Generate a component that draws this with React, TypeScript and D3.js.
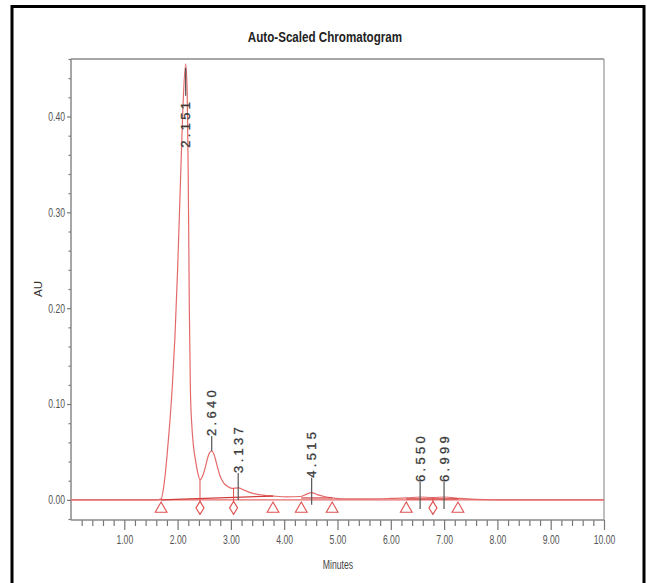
import React, { useEffect, useRef } from 'react';
import * as d3 from 'd3';

// trace (minutes / AU)
const traceTime = [0, 1.0, 1.6, 1.69, 1.75, 1.8, 1.85, 1.9, 1.95, 2.0, 2.05, 2.1, 2.151, 2.18, 2.2, 2.22, 2.24, 2.27, 2.3, 2.34, 2.38, 2.42, 2.47, 2.52, 2.57, 2.61, 2.64, 2.68, 2.73, 2.79, 2.86, 2.94, 3.02, 3.137, 3.25, 3.4, 3.6, 3.8, 4.05, 4.3, 4.42, 4.515, 4.62, 4.75, 4.9, 5.1, 5.5, 6.0, 6.3, 6.55, 6.8, 7.0, 7.3, 7.6, 8.0, 10.0];
const traceAU = [0, 0, 0, 0.001, 0.018, 0.045, 0.078, 0.118, 0.17, 0.24, 0.325, 0.41, 0.455, 0.425, 0.335, 0.2, 0.115, 0.075, 0.055, 0.04, 0.028, 0.021, 0.025, 0.034, 0.045, 0.05, 0.051, 0.048, 0.038, 0.026, 0.018, 0.014, 0.012, 0.0125, 0.01, 0.007, 0.005, 0.004, 0.0032, 0.0035, 0.006, 0.0075, 0.0055, 0.0035, 0.002, 0.001, 0.001, 0.0015, 0.002, 0.003, 0.0025, 0.003, 0.0015, 0.0005, 0, 0];

// labelled peaks
const peakRT = [2.151, 2.64, 3.137, 4.515, 6.55, 6.999];
const peakAU = [0.455, 0.051, 0.0125, 0.0075, 0.003, 0.003];
const peakLabels = ['2.151', '2.640', '3.137', '4.515', '6.550', '6.999'];

// integration marks
const triangleRT = [1.69, 3.79, 4.32, 4.9, 6.29, 7.26];
const diamondRT = [2.42, 3.05, 6.79];
const baseStartRT = [1.69, 4.32, 6.29];
const baseStartAU = [0, 0.002, 0.001];
const baseEndRT = [3.79, 4.9, 7.26];
const baseEndAU = [0.004, 0.002, 0.001];

// axes
const xMajor = [1, 2, 3, 4, 5, 6, 7, 8, 9, 10];
const yMajor = [0, 0.1, 0.2, 0.3, 0.4];

const W = 647;
const H = 583;

// squeeze a text to look like a narrow face (no Arial Narrow installed)
const squeeze = (sel: d3.Selection<any, any, any, any>, k: number) => {
  sel.each(function () {
    const el = this as SVGTextElement;
    const w = el.getComputedTextLength();
    if (w > 0) {
      el.setAttribute('textLength', String(w * k));
      el.setAttribute('lengthAdjust', 'spacingAndGlyphs');
    }
  });
};

const App: React.FC = () => {
  const svgRef = useRef<SVGSVGElement>(null);

  useEffect(() => {
    if (!svgRef.current) return;
    const root = d3.select(svgRef.current);
    root.selectAll('*').remove();

    const left = 71, right = 604, top = 59, bottom = 520;
    const sans = "'Liberation Sans', Arial, sans-serif";
    const red = '#e46a6a';

    const x = d3.scaleLinear().domain([0, 10]).range([left, right]);
    const y = d3.scaleLinear().domain([-0.021, 0.46]).range([bottom, top]);

    // outer frame
    root.append('rect').attr('width', W).attr('height', H).attr('fill', '#fff');
    root.append('path')
      .attr('d', `M12,${H + 5} L12,6.5 L644,6.5 L644,${H + 5}`)
      .attr('fill', 'none').attr('stroke', '#000').attr('stroke-width', 3);

    // title
    const title = root.append('text')
      .attr('x', 325).attr('y', 42)
      .attr('text-anchor', 'middle')
      .style('font-family', sans).style('font-weight', 'bold').style('font-size', '14px')
      .attr('fill', '#222')
      .text('Auto-Scaled Chromatogram');
    squeeze(title, 0.83);

    // plot frame
    root.append('line').attr('x1', left).attr('x2', right).attr('y1', top).attr('y2', top)
      .attr('stroke', '#888').attr('stroke-width', 1.5);
    root.append('line').attr('x1', right).attr('x2', right).attr('y1', top).attr('y2', bottom)
      .attr('stroke', '#aaa').attr('stroke-width', 1.5);

    // x axis
    const xMinor = d3.range(0.2, 10.01, 0.2).filter(v => Math.abs(v - Math.round(v)) > 0.01);
    const gxm = root.append('g').attr('transform', `translate(0,${bottom})`)
      .call(d3.axisBottom(x).tickValues(xMinor).tickSize(6).tickFormat(() => ''));
    const gx = root.append('g').attr('transform', `translate(0,${bottom})`)
      .call(d3.axisBottom(x).tickValues(xMajor).tickSize(10).tickPadding(4).tickFormat(d3.format('.2f')));
    gx.select('.domain').attr('d', `M${left},0H${right}`);
    gxm.select('.domain').remove();

    // y axis
    const yMinor = d3.range(-0.02, 0.461, 0.02).filter(v => Math.abs(v * 10 - Math.round(v * 10)) > 0.01);
    const gym = root.append('g').attr('transform', `translate(${left},0)`)
      .call(d3.axisLeft(y).tickValues(yMinor).tickSize(2.5).tickFormat(() => ''));
    const gy = root.append('g').attr('transform', `translate(${left},0)`)
      .call(d3.axisLeft(y).tickValues(yMajor).tickSize(4).tickPadding(2).tickFormat(d3.format('.2f')));
    gy.select('.domain').attr('d', `M0,${top}V${bottom}`);
    gym.select('.domain').remove();

    [gx, gxm, gy, gym].forEach(g => {
      g.selectAll('line').attr('stroke', '#777').attr('stroke-width', 1.2);
      g.selectAll('.domain').attr('stroke', '#888').attr('stroke-width', 1.5);
      g.selectAll('text').style('font-family', sans).style('font-size', '12px').attr('fill', '#555');
    });
    gx.selectAll('text').attr('dy', '0.85em');
    squeeze(gx.selectAll('text'), 0.72);
    squeeze(gy.selectAll('text'), 0.72);

    // axis titles
    const mins = root.append('text')
      .attr('x', 338).attr('y', 569).attr('text-anchor', 'middle')
      .style('font-family', sans).style('font-size', '12px').attr('fill', '#444')
      .text('Minutes');
    squeeze(mins, 0.72);
    root.append('text')
      .attr('transform', `translate(42,${y(0.22)}) rotate(-90)`)
      .attr('text-anchor', 'middle')
      .style('font-family', sans).style('font-size', '11.5px').attr('fill', '#333')
      .text('AU');

    // flat baseline of the detector
    root.append('line')
      .attr('x1', x(0)).attr('x2', x(10)).attr('y1', y(0)).attr('y2', y(0))
      .attr('stroke', red).attr('stroke-width', 1.2);

    // trace
    const pts = traceTime.map((t, i) => [t, traceAU[i]] as [number, number]);
    const line = d3.line<[number, number]>()
      .x(d => x(d[0]))
      .y(d => y(d[1]))
      .curve(d3.curveMonotoneX);
    root.append('path')
      .datum(pts)
      .attr('fill', 'none')
      .attr('stroke', red)
      .attr('stroke-width', 1.2)
      .attr('d', line);

    // integration baselines
    baseStartRT.forEach((s, i) => {
      root.append('line')
        .attr('x1', x(s)).attr('y1', y(baseStartAU[i]))
        .attr('x2', x(baseEndRT[i])).attr('y2', y(baseEndAU[i]))
        .attr('stroke', '#d43c3c').attr('stroke-width', 1.2);
    });

    const auAt = (t: number) => {
      const i = d3.bisectLeft(traceTime, t);
      if (i <= 0) return traceAU[0];
      const t0 = traceTime[i - 1], t1 = traceTime[i];
      return traceAU[i - 1] + (traceAU[i] - traceAU[i - 1]) * (t - t0) / (t1 - t0);
    };

    const markY = y(0) + 8;

    // triangles
    const tri = d3.symbol().type(d3.symbolTriangle).size(60);
    triangleRT.forEach(t => {
      root.append('path')
        .attr('d', tri() as string)
        .attr('transform', `translate(${x(t)},${markY + 1})`)
        .attr('fill', 'none').attr('stroke', '#e05050').attr('stroke-width', 1.1);
    });

    // diamonds with drop lines
    diamondRT.forEach(t => {
      root.append('line')
        .attr('x1', x(t)).attr('x2', x(t))
        .attr('y1', y(auAt(t))).attr('y2', markY - 6)
        .attr('stroke', '#e05050').attr('stroke-width', 1);
      root.append('path')
        .attr('d', `M0,-6.5L4,0L0,6.5L-4,0Z`)
        .attr('transform', `translate(${x(t)},${markY})`)
        .attr('fill', 'none').attr('stroke', '#e05050').attr('stroke-width', 1.1);
    });

    // peak labels
    peakRT.forEach((rt, i) => {
      const px = x(rt);
      const py = y(peakAU[i]);
      const g = root.append('g');
      const txt = g.append('text')
        .attr('text-anchor', 'start')
        .attr('dy', '0.36em')
        .style('font-family', sans)
        .style('font-size', '13px')
        .style('letter-spacing', '3.3px')
        .style('stroke', '#3a3a3a').style('stroke-width', 0.3)
        .attr('fill', '#3a3a3a')
        .text(peakLabels[i]);
      const len = 52;
      let textBottom: number;
      if (py - 15 - len < top) {
        // tall peak: label hangs under the apex
        const lineTop = py + 4;
        textBottom = py + 84;
        g.append('line').attr('x1', px).attr('x2', px).attr('y1', lineTop).attr('y2', textBottom - len)
          .attr('stroke', '#555').attr('stroke-width', 1.2);
      } else {
        textBottom = py - 15;
        const lineBottom = py + (peakAU[i] < 0.02 ? 12 : 0);
        g.append('line').attr('x1', px).attr('x2', px).attr('y1', textBottom).attr('y2', lineBottom)
          .attr('stroke', '#555').attr('stroke-width', 1.2);
      }
      txt.attr('transform', `translate(${px},${textBottom}) rotate(-90)`);
    });
  }, []);

  return (
    <div style={{ position: 'fixed', left: 0, top: 0, width: W, height: H, background: '#fff' }}>
      <svg ref={svgRef} width={W} height={H} />
    </div>
  );
};

export default App;
